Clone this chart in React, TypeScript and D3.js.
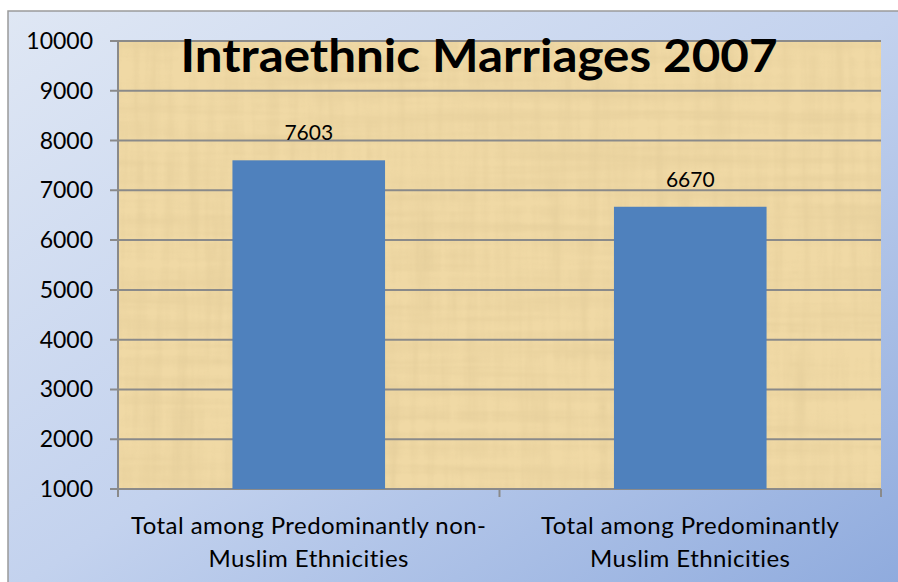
import * as React from "react"
import * as d3 from "d3"

const categories = [
    ["Total among Predominantly non-", "Muslim Ethnicities"],
    ["Total among Predominantly", "Muslim Ethnicities"],
]
const values = [7603, 6670]
const yTicks = [1000, 2000, 3000, 4000, 5000, 6000, 7000, 8000, 9000, 10000]
const title = "Intraethnic Marriages 2007"

export default function App() {
    const width = 898
    const height = 582
    const plot = { left: 118, right: 881, top: 41, bottom: 489 }
    const font = "Lato, 'Open Sans', sans-serif"

    const y = d3.scaleLinear().domain([1000, 10000]).range([plot.bottom, plot.top])
    const x = d3
        .scaleBand()
        .domain(categories.map((c, i) => String(i)))
        .range([plot.left, plot.right])
        .paddingInner(0.6)
        .paddingOuter(0.3)
    const step = x.step()

    return (
        <svg
            width={width}
            height={height}
            style={{ position: "absolute", left: 0, top: 0, fontVariantLigatures: "none" }}
        >
            <defs>
                <linearGradient id="bg" x1="0" y1="0" x2="1" y2="1">
                    <stop offset="0" stopColor="#dfe7f4" />
                    <stop offset="0.5" stopColor="#c3d2ee" />
                    <stop offset="1" stopColor="#8eaadd" />
                </linearGradient>
                <filter id="papyrus" x="0" y="0" width="100%" height="100%">
                    <feTurbulence type="fractalNoise" baseFrequency="0.004 0.09" numOctaves="3" seed="3" result="v" />
                    <feTurbulence type="fractalNoise" baseFrequency="0.09 0.006" numOctaves="3" seed="7" result="h" />
                    <feBlend in="v" in2="h" mode="multiply" result="n" />
                    <feColorMatrix
                        in="n"
                        type="matrix"
                        values="0 0 0 0 0.55  0 0 0 0 0.42  0 0 0 0 0.2  -0.9 0 0 0 0.5"
                    />
                </filter>
            </defs>
            <rect x={8} y={11} width={width} height={height} fill="url(#bg)" stroke="#9a9a9a" strokeWidth={1.5} />

            {/* plot area */}
            <rect x={plot.left} y={plot.top} width={plot.right - plot.left} height={plot.bottom - plot.top} fill="#f0d9a5" />
            <rect
                x={plot.left}
                y={plot.top}
                width={plot.right - plot.left}
                height={plot.bottom - plot.top}
                fill="#000"
                filter="url(#papyrus)"
                opacity={0.55}
            />

            {yTicks.map((t) => (
                <g key={t}>
                    <line x1={plot.left - 8} x2={plot.right} y1={y(t)} y2={y(t)} stroke="#8a8a8a" strokeWidth={2} />
                    <text x={93} y={y(t) + 8} textAnchor="end" fontFamily={font} fontSize={23} fill="#000">
                        {t}
                    </text>
                </g>
            ))}
            <line x1={plot.left} x2={plot.left} y1={plot.top} y2={plot.bottom + 8} stroke="#8a8a8a" strokeWidth={2} />
            {[0, 1, 2].map((i) => (
                <line
                    key={i}
                    x1={plot.left + i * step}
                    x2={plot.left + i * step}
                    y1={plot.bottom}
                    y2={plot.bottom + 8}
                    stroke="#8a8a8a"
                    strokeWidth={2}
                />
            ))}

            {values.map((v, i) => {
                const bx = x(String(i))!
                return (
                    <g key={i}>
                        <rect x={bx} y={y(v)} width={x.bandwidth()} height={plot.bottom - y(v)} fill="#4f81bd" />
                        <text
                            x={bx + x.bandwidth() / 2}
                            y={y(v) - 20}
                            textAnchor="middle"
                            fontFamily={font}
                            fontSize={21}
                            fill="#000"
                        >
                            {v}
                        </text>
                    </g>
                )
            })}

            {categories.map((lines, i) => (
                <text
                    key={i}
                    x={x(String(i))! + x.bandwidth() / 2}
                    textAnchor="middle"
                    fontFamily={font}
                    fontSize={24}
                    letterSpacing={0.45}
                    fill="#000"
                >
                    {lines.map((l, j) => (
                        <tspan key={j} x={x(String(i))! + x.bandwidth() / 2} y={534 + j * 33}>
                            {l}
                        </tspan>
                    ))}
                </text>
            ))}

            <text
                x={479}
                y={72}
                textAnchor="middle"
                fontFamily={font}
                fontWeight="bold"
                fontSize={46}
                textLength={597}
                lengthAdjust="spacingAndGlyphs"
                fill="#000"
            >
                {title}
            </text>
        </svg>
    )
}
